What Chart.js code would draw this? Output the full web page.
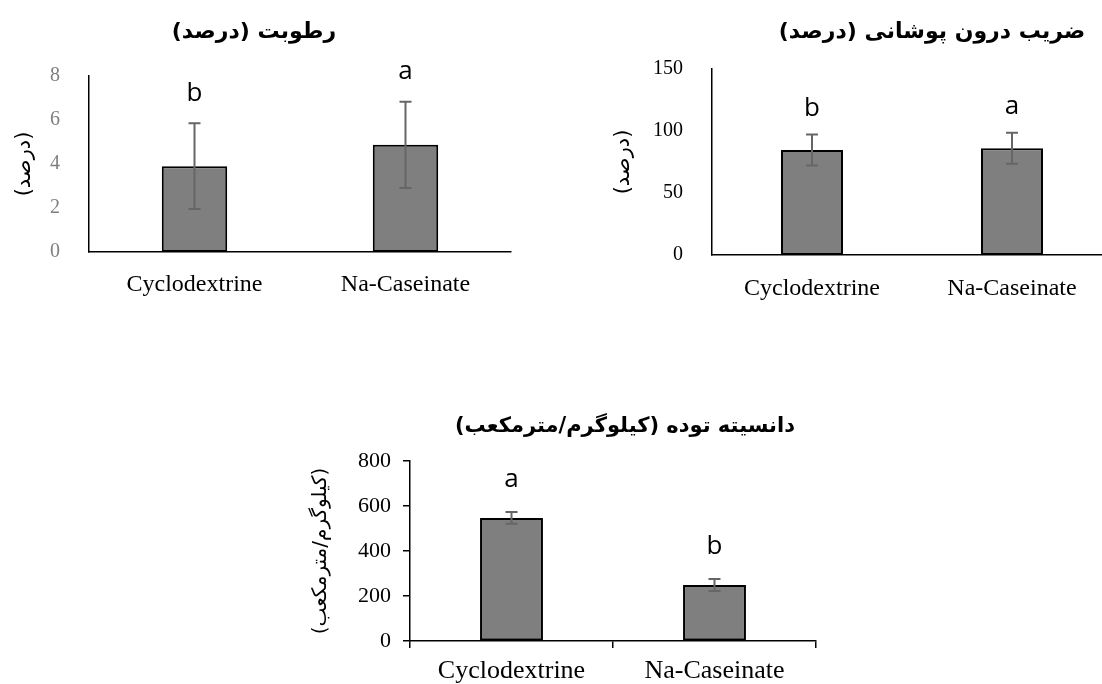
<!DOCTYPE html>
<html>
<head>
<meta charset="utf-8">
<script src="https://cdn.jsdelivr.net/npm/chart.js@4.4.0/dist/chart.umd.min.js"></script>
<style>
  html, body { margin: 0; padding: 0; background: #fff; overflow: hidden; }
  #page { position: relative; width: 1102px; height: 684px; overflow: hidden; }
  canvas { position: absolute; }
</style>
</head>
<body>
<div id="page">
  <canvas id="moistureChart" dir="rtl" width="551" height="300" style="left:0;top:0"></canvas>
  <canvas id="occlusionChart" dir="rtl" width="570" height="300" style="left:551px;top:0"></canvas>
  <canvas id="densityChart" dir="rtl" width="560" height="304" style="left:280px;top:380px"></canvas>
</div>
<script>
// shared categories
const categories = ["Cyclodextrine", "Na-Caseinate"];

// moisture (%)
const moistureValues = [3.9, 4.87];
const moistureErrors = [1.95, 1.96];
const moistureLetters = ["b", "a"];
const moistureTicks = [0, 2, 4, 6, 8];

// occlusion coefficient (%)
const occlusionValues = [84.7, 86];
const occlusionErrors = [12.5, 12.5];
const occlusionLetters = ["b", "a"];
const occlusionTicks = [0, 50, 100, 150];

// bulk density (kg/m3)
const densityValues = [547, 249];
const densityErrors = [26, 27];
const densityLetters = ["a", "b"];
const densityTicks = [0, 200, 400, 600, 800];

const SERIF = "'Liberation Serif', 'Times New Roman', serif";
const ARABIC = "'DejaVu Sans', sans-serif";

/* error bars, letters and the bold title */
const barExtras = {
    id: "barExtras",
    afterDatasetsDraw(chart, args, opts) {
        const ctx = chart.ctx;
        const meta = chart.getDatasetMeta(0);
        const y = chart.scales.y;
        ctx.save();
        meta.data.forEach((bar, i) => {
            const v = opts.values[i], e = opts.errors[i];
            const top = y.getPixelForValue(v + e);
            const bot = y.getPixelForValue(v - e);
            ctx.strokeStyle = "#666";
            ctx.lineWidth = 2;
            ctx.beginPath();
            ctx.moveTo(bar.x, top); ctx.lineTo(bar.x, bot);
            ctx.moveTo(bar.x - 6, top); ctx.lineTo(bar.x + 6, top);
            ctx.moveTo(bar.x - 6, bot); ctx.lineTo(bar.x + 6, bot);
            ctx.stroke();

            ctx.fillStyle = "#000";
            ctx.font = "26px 'Open Sans', sans-serif";
            ctx.textAlign = "center";
            ctx.textBaseline = "middle";
            ctx.fillText(opts.letters[i], bar.x, top - opts.letterGap);
        });
        ctx.direction = "rtl";
        ctx.font = "bold " + opts.titleSize + "px " + ARABIC;
        ctx.textAlign = "center";
        ctx.textBaseline = "middle";
        ctx.fillStyle = "#000";
        ctx.fillText(opts.title, opts.titleX, opts.titleY);
        ctx.restore();
    }
};

function makeChart(id, c) {
    return new Chart(document.getElementById(id), {
        type: "bar",
        data: {
            labels: categories,
            datasets: [{
                data: c.values,
                backgroundColor: "#7f7f7f",
                borderColor: "#000",
                borderWidth: 2,
                borderSkipped: false,
                barPercentage: 0.31,
                categoryPercentage: 1
            }]
        },
        options: {
            responsive: false,
            animation: false,
            layout: { padding: { top: c.top, right: c.right, bottom: 0, left: 0 } },
            plugins: {
                legend: { display: false },
                tooltip: { enabled: false },
                barExtras: {
                    values: c.values, errors: c.errors, letters: c.letters,
                    letterGap: c.letterGap, title: c.title,
                    titleX: c.titleX, titleY: c.titleY, titleSize: c.titleSize
                }
            },
            scales: {
                x: {
                    grid: {
                        display: c.ticksOut, drawOnChartArea: false, drawTicks: true,
                        tickLength: 7, color: "#000", lineWidth: 1.5
                    },
                    border: { display: true, color: "#000", width: 1.5 },
                    ticks: {
                        color: "#000", maxRotation: 0, padding: c.xPad,
                        font: { family: SERIF, size: c.xFont }
                    },
                    afterFit: s => { s.height = c.xHeight; }
                },
                y: {
                    min: c.ticks[0],
                    max: c.ticks[c.ticks.length - 1],
                    grid: {
                        display: c.ticksOut, drawOnChartArea: false, drawTicks: true,
                        tickLength: 7, color: "#000", lineWidth: 1.5
                    },
                    border: { display: true, color: "#000", width: 1.5 },
                    ticks: {
                        stepSize: c.ticks[1] - c.ticks[0],
                        color: c.tickColor, padding: c.yPad,
                        font: { family: SERIF, size: c.yFont }
                    },
                    title: {
                        display: true, text: c.yTitle, color: "#000",
                        font: { family: ARABIC, size: c.yTitleSize },
                        padding: { top: c.yTitlePad, bottom: 0 }
                    },
                    afterFit: s => { s.width = c.yWidth; }
                }
            }
        },
        plugins: [barExtras]
    });
}

makeChart("moistureChart", {
    values: moistureValues, errors: moistureErrors, letters: moistureLetters, ticks: moistureTicks,
    title: "رطوبت (درصد)", titleX: 254, titleY: 32, titleSize: 22,
    yTitle: "(درصد)", yTitleSize: 21, yTitlePad: 12,
    top: 76, right: 40, yWidth: 89, xHeight: 48,
    tickColor: "#7f7f7f", yFont: 20, yPad: 22, xFont: 24, xPad: 11,
    letterGap: 30, ticksOut: false
});

makeChart("occlusionChart", {
    values: occlusionValues, errors: occlusionErrors, letters: occlusionLetters, ticks: occlusionTicks,
    title: "ضریب درون پوشانی (درصد)", titleX: 381, titleY: 32, titleSize: 22,
    yTitle: "(درصد)", yTitleSize: 21, yTitlePad: 60,
    top: 69, right: 9, yWidth: 161, xHeight: 45,
    tickColor: "#000", yFont: 20, yPad: 22, xFont: 24, xPad: 12,
    letterGap: 26, ticksOut: false
});

makeChart("densityChart", {
    values: densityValues, errors: densityErrors, letters: densityLetters, ticks: densityTicks,
    title: "دانسیته توده (کیلوگرم/مترمکعب)", titleX: 345, titleY: 47, titleSize: 21,
    yTitle: "(کیلوگرم/مترمکعب)", yTitleSize: 20, yTitlePad: 29,
    top: 81, right: 24, yWidth: 130, xHeight: 43,
    tickColor: "#000", yFont: 22, yPad: 12, xFont: 26, xPad: 8,
    letterGap: 32, ticksOut: true
});
</script>
</body>
</html>
